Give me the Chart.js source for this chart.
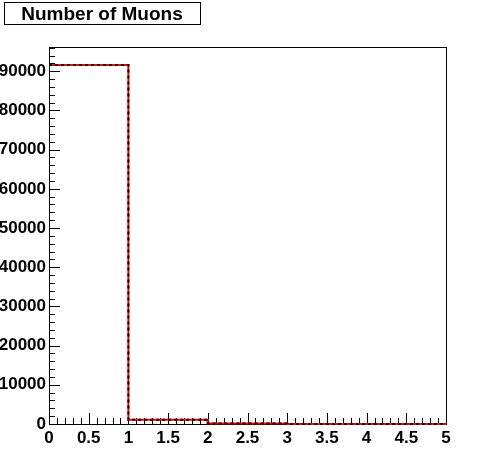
<!DOCTYPE html>
<html>
<head>
<meta charset="utf-8">
<script src="https://cdn.jsdelivr.net/npm/chart.js@4"></script>
<style>
html,body{margin:0;padding:0;background:#fff;}
#wrap{width:496px;height:472px;}
</style>
</head>
<body>
<div id="wrap"><canvas id="c" width="496" height="472"></canvas></div>
<script>
// histogram: number of muons per event
let binEdges = [0, 1, 2, 3, 4, 5];
let binCounts = [91600, 1100, 150, 20, 5];
let yTickValues = [0, 10000, 20000, 30000, 40000, 50000, 60000, 70000, 80000, 90000];
let xTickValues = [0, 0.5, 1, 1.5, 2, 2.5, 3, 3.5, 4, 4.5, 5];
let titleText = "Number of Muons";

let pts = binCounts.map((v, i) => ({x: binEdges[i], y: v}));
pts.push({x: binEdges[binEdges.length - 1], y: binCounts[binCounts.length - 1]});

let font = {family: "'Liberation Sans', Arial, sans-serif", size: 17, weight: "bold"};

// frame + inward ticks like ROOT
let frame = {
id: "frame",
beforeDatasetsDraw(chart){
let ctx = chart.ctx, a = chart.chartArea;
let xs = chart.scales.x, ys = chart.scales.y;
ctx.save();
ctx.strokeStyle = "#000";
ctx.lineWidth = 1;
ctx.strokeRect(a.left + 0.5, a.top + 0.5, a.right - a.left, a.bottom - a.top);
ctx.beginPath();
for(let i = 0; i <= 50; i++){
let v = i * 0.1;
let px = Math.round(xs.getPixelForValue(v)) + 0.5;
let len = (i % 5 == 0) ? 11 : 6;
ctx.moveTo(px, a.bottom);
ctx.lineTo(px, a.bottom - len);
}
for(let i = 0; i * 2000 <= ys.max; i++){
let v = i * 2000;
let py = Math.round(ys.getPixelForValue(v)) + 0.5;
let len = (i % 5 == 0) ? 11 : 6;
ctx.moveTo(a.left, py);
ctx.lineTo(a.left + len, py);
}
ctx.stroke();
ctx.restore();
},
afterDraw(chart){
let ctx = chart.ctx;
ctx.save();
ctx.strokeStyle = "#000";
ctx.lineWidth = 1;
ctx.strokeRect(4.5, 2.5, 196, 22);
ctx.fillStyle = "#000";
ctx.font = "bold 19px 'Liberation Sans', Arial, sans-serif";
ctx.textAlign = "center";
ctx.textBaseline = "middle";
ctx.fillText(titleText, 102, 15);
ctx.restore();
}
};

new Chart(document.getElementById("c"), {
type: "line",
data: {
datasets: [{
// black dashes drawn on top of the red line
data: pts,
stepped: "before",
borderColor: "#000000",
borderWidth: 2,
borderDash: [3, 3],
pointRadius: 0,
clip: false
},{
data: pts,
stepped: "before",
borderColor: "#ff0000",
borderWidth: 2,
pointRadius: 0,
clip: false
}]
},
options: {
responsive: false,
animation: false,
layout: {padding: {top: 47, right: 50, left: 0, bottom: 0}},
plugins: {legend: {display: false}, tooltip: {enabled: false}},
scales: {
x: {
type: "linear",
min: 0,
max: 5,
afterBuildTicks: s => { s.ticks = xTickValues.map(v => ({value: v})); },
afterFit: s => { s.height = 48; },
grid: {display: false, drawTicks: false},
border: {display: false},
ticks: {color: "#000", font: font, padding: 4, maxRotation: 0, autoSkip: false,
callback: v => String(v)}
},
y: {
min: 0,
max: 96180,
afterBuildTicks: s => { s.ticks = yTickValues.map(v => ({value: v})); },
afterFit: s => { s.width = 49; },
grid: {display: false, drawTicks: false},
border: {display: false},
ticks: {color: "#000", font: font, padding: 3, autoSkip: false,
callback: v => String(v)}
}
}
},
plugins: [frame]
});
</script>
</body>
</html>
